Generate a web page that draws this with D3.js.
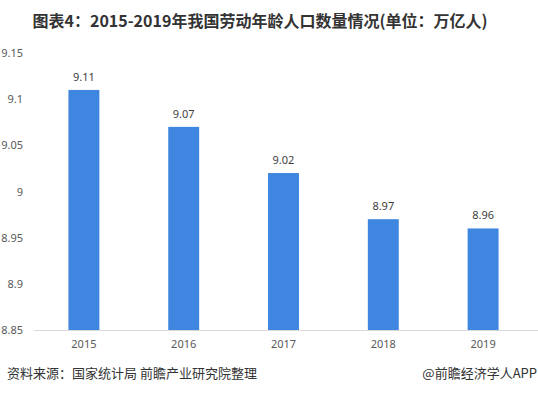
<!DOCTYPE html>
<html>
<head>
<meta charset="utf-8">
<script src="https://cdn.jsdelivr.net/npm/d3@7"></script>
<style>
  body { margin: 0; background: #fff; }
  text { font-family: "Noto Sans CJK SC", "Noto Sans", sans-serif; }
</style>
</head>
<body>
<div id="chart"></div>
<script>
// chart data
const years = ["2015", "2016", "2017", "2018", "2019"];
const values = [9.11, 9.07, 9.02, 8.97, 8.96];
const yTicks = [8.85, 8.9, 8.95, 9, 9.05, 9.1, 9.15];

const width = 538, height = 394;

const svg = d3.select("#chart")
    .append("svg")
    .attr("width", width)
    .attr("height", height);

const x = d3.scaleBand()
    .domain(years)
    .range([34, 533])
    .paddingInner(0.69)
    .paddingOuter(0.345);

const y = d3.scaleLinear()
    .domain([8.85, 9.15])
    .range([330, 53]);

// title
svg.append("text")
    .attr("x", 260)
    .attr("y", 27)
    .attr("text-anchor", "middle")
    .attr("font-size", 16)
    .attr("font-weight", "bold")
    .attr("fill", "#333")
    .text("图表4：2015-2019年我国劳动年龄人口数量情况(单位：万亿人)");

// y axis labels, no line
const yAxis = svg.append("g")
    .attr("transform", "translate(23,0)")
    .call(d3.axisLeft(y).tickValues(yTicks).tickSize(0).tickPadding(0).tickFormat(d => String(d)));
yAxis.select(".domain").remove();
yAxis.selectAll("text")
    .attr("font-size", 11)
    .attr("fill", "#595959")
    .style("font-family", "'Noto Sans', sans-serif");

// bars
svg.append("g")
    .selectAll("rect")
    .data(values)
    .enter()
    .append("rect")
    .attr("x", (d, i) => x(years[i]))
    .attr("y", d => y(d))
    .attr("width", x.bandwidth())
    .attr("height", d => y(8.85) - y(d))
    .attr("fill", "#3f86e1");

// value labels
svg.append("g")
    .selectAll("text")
    .data(values)
    .enter()
    .append("text")
    .attr("x", (d, i) => x(years[i]) + x.bandwidth() / 2)
    .attr("y", d => y(d) - 9)
    .attr("text-anchor", "middle")
    .attr("font-size", 11)
    .attr("fill", "#404040")
    .style("font-family", "'Noto Sans', sans-serif")
    .text(d => d.toFixed(2));

// x axis
const xAxis = svg.append("g")
    .attr("transform", `translate(0,${y(8.85)})`)
    .call(d3.axisBottom(x).tickSize(0).tickPadding(10));
xAxis.select(".domain")
    .attr("stroke", "#d9d9d9")
    .attr("d", "M34,0.5H538");
xAxis.selectAll("text")
    .attr("font-size", 11)
    .attr("fill", "#595959")
    .style("font-family", "'Noto Sans', sans-serif");

// footer
svg.append("text")
    .attr("x", 7)
    .attr("y", 378)
    .attr("font-size", 13)
    .attr("fill", "#333")
    .text("资料来源：国家统计局 前瞻产业研究院整理");

svg.append("text")
    .attr("x", 537)
    .attr("y", 378)
    .attr("text-anchor", "end")
    .attr("font-size", 13)
    .attr("fill", "#333")
    .text("@前瞻经济学人APP");
</script>
</body>
</html>
